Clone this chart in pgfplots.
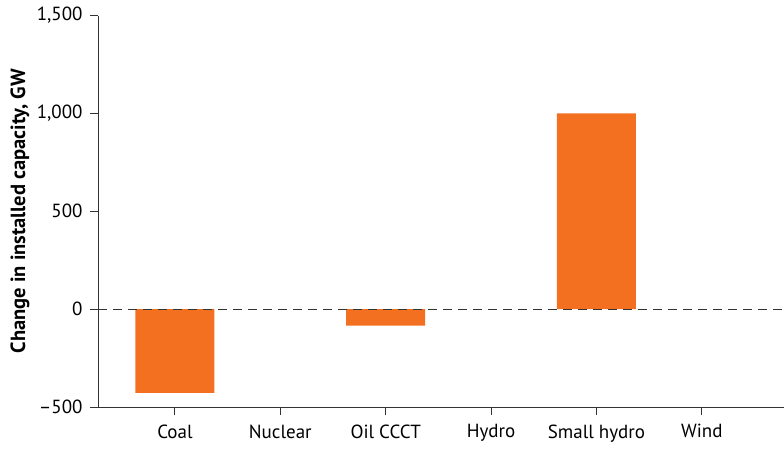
\documentclass[border=0pt]{standalone}
\usepackage{pgfplots}
\pgfplotsset{compat=1.18}
\usepackage{fontspec}
\setmainfont{PT Sans}
\definecolor{barorange}{HTML}{F37021}
\definecolor{axisgray}{HTML}{333333}
\begin{document}
\begin{tikzpicture}
\useasboundingbox (-98pt,-41pt) rectangle (686pt,407pt);
\begin{axis}[
  at={(0,0)}, anchor=south west,
  scale only axis,
  width=686pt, height=391.5pt,
  xmin=-0.73, xmax=5.78,
  ymin=-500, ymax=1500,
  axis x line*=bottom, axis y line*=left,
  axis line style={axisgray, line width=0.9pt},
  xtick={0,1,2,3,4,5},
  xticklabels={Coal,Nuclear,Oil CCCT,Hydro,Small hydro,Wind},
  ytick={-500,0,500,1000,1500},
  yticklabels={\textendash500,0,500,{1,000},{1,500}},
  tick align=outside,
  major tick length=8pt,
  tick style={axisgray, line width=0.9pt},
  ticklabel style={font=\fontsize{19}{22}\selectfont, text=black},
  xticklabel style={yshift=-6pt},
  yticklabel style={xshift=-4pt},
  ylabel={\bfseries Change in installed capacity, GW},
  every axis y label/.style={at={(rel axis cs:0,0.5)}, xshift=-78pt, rotate=90, anchor=center, font=\fontsize{20.5}{23}\selectfont},
  ybar, bar width=79pt,
  clip=false,
]
\addplot[fill=barorange, draw=none] coordinates {(0,-428) (2,-84) (4,1000)};
\addplot[ybar=false, sharp plot, draw=axisgray, line width=1.1pt, dash pattern=on 9pt off 6pt, forget plot] coordinates {(-0.73,0) (5.78,0)};
\end{axis}
\end{tikzpicture}
\end{document}
